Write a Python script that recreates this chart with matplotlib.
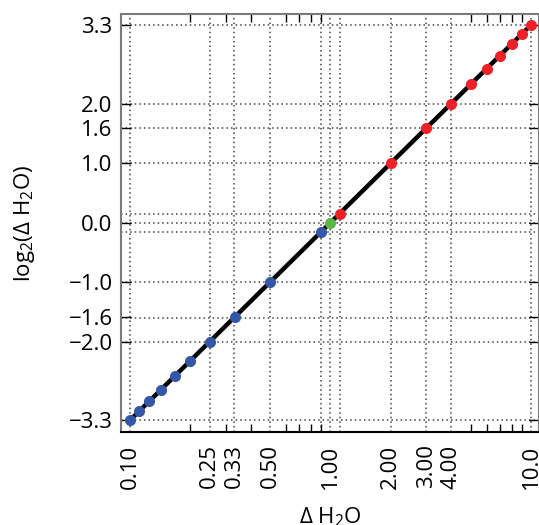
import matplotlib
matplotlib.use("Agg")
import matplotlib.pyplot as plt
from matplotlib.ticker import FixedLocator, NullFormatter
import numpy as np

plt.rcParams['font.family'] = ['Open Sans', 'DejaVu Sans']
plt.rcParams['mathtext.fontset'] = 'custom'
plt.rcParams['mathtext.rm'] = 'Open Sans'

# ratios of H2O (x) and groups for colouring
dh2o_low = [0.1, 0.111, 0.125, 0.143, 0.167, 0.2, 0.25, 0.333, 0.5, 0.9]
dh2o_one = [1.0]
dh2o_high = [1.11, 2, 3, 4, 5, 6, 7, 8, 9, 10]

# positions with dotted grid lines and labels
grid_x = [0.1, 0.25, 0.33, 0.5, 0.9, 1.0, 1.11, 2, 3, 4, 10]
xtick_vals = [0.1, 0.25, 0.33, 0.5, 1.0, 2, 3, 4, 10]
xtick_labels = ["0.10", "0.25", "0.33", "0.50", "1.00", "2.00", "3.00", "4.00", "10.0"]
ytick_vals = [10, 4, 3, 2, 1, 0.5, 1 / 3, 0.25, 0.1]
ytick_labels = ["3.3", "2.0", "1.6", "1.0", "0.0", "\u22121.0", "\u22121.6", "\u22122.0", "\u22123.3"]

blue, green, red = "#3557a8", "#5cb646", "#ec2228"
fs = 16

fig = plt.figure(figsize=(5.39, 5.25), dpi=100)
ax = fig.add_axes([121 / 539, 93 / 525, 418 / 539, 418 / 525])

allx = np.array(dh2o_low + dh2o_one + dh2o_high)
ax.plot(allx, np.log2(allx), color="black", lw=3.2, zorder=3)
for xs, c in [(dh2o_low, blue), (dh2o_one, green), (dh2o_high, red)]:
    xs = np.array(xs)
    ax.plot(xs, np.log2(xs), "o", color=c, ms=8, mec="none", zorder=4)

for g in grid_x:
    ax.axvline(g, color="#444444", ls=(0, (1, 2)), lw=1.1, zorder=1)
    ax.axhline(np.log2(g), color="#444444", ls=(0, (1, 2)), lw=1.1, zorder=1)

ax.set_xscale("log")
ax.set_xlim(0.0902, 10.96)
ax.set_ylim(-3.52, 3.505)

ax.xaxis.set_major_locator(FixedLocator(xtick_vals))
ax.set_xticklabels(xtick_labels, rotation=90)
minor = [m * d for d in (0.1, 1) for m in range(1, 10)] + [10]
ax.xaxis.set_minor_locator(FixedLocator(minor))
ax.xaxis.set_minor_formatter(NullFormatter())
ax.tick_params(axis="x", which="major", length=0, pad=9, labelsize=fs)
ax.tick_params(axis="x", which="minor", length=6, direction="in",
               top=True, bottom=True, width=1)

ax.set_yticks(np.log2(ytick_vals))
ax.set_yticklabels(ytick_labels)
ax.tick_params(axis="y", which="major", length=7, direction="in",
               left=True, right=True, labelsize=fs, pad=6, width=1)

for s in ["left", "top", "right"]:
    ax.spines[s].set_color("#7a7a7a")
    ax.spines[s].set_linewidth(1.5)
ax.spines["bottom"].set_color("black")
ax.spines["bottom"].set_linewidth(1.5)

ax.set_xlabel(r"$\Delta$ H$_2$O", fontsize=fs)
ax.xaxis.set_label_coords(0.5, -0.175)
ax.set_ylabel(r"log$_2$($\Delta$ H$_2$O)", fontsize=fs)
ax.yaxis.set_label_coords(-0.2, 0.5)

fig.savefig("out.png", dpi=100)
